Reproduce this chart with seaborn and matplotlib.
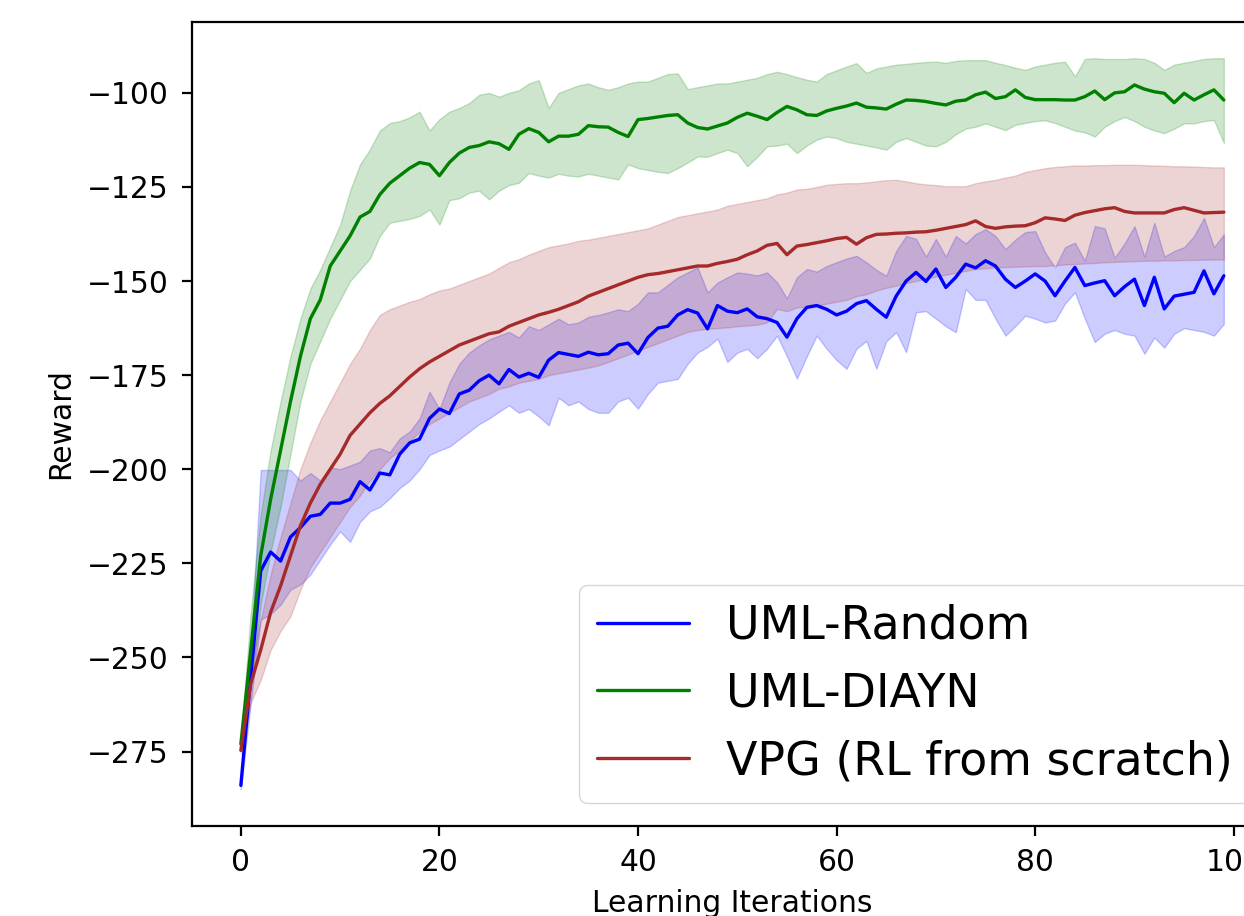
import numpy as np
import pandas as pd
import matplotlib
matplotlib.use("Agg")
import matplotlib.pyplot as plt
import seaborn as sns

iterations = list(range(100))

random_mean = [-284, -255, -227, -222, -224.4, -218, -215.5, -212.5, -212, -209,
               -209, -208, -203.3, -205.5, -201, -201.5, -196, -193, -192, -186.5,
               -184, -185.2, -180, -179, -176.5, -175, -177.3, -173.5, -175.5, -174.5,
               -175.6, -171, -169, -169.5, -170, -168.9, -169.6, -169.3, -167, -166.5,
               -169.3, -165, -162.5, -162, -159, -157.6, -158.5, -162.7, -156.5, -158,
               -158.4, -157.4, -159.5, -160, -161, -164.9, -160, -157, -156.5, -157.5,
               -159, -158, -156, -155.2, -157.5, -159.6, -154, -150, -147.7, -150.1,
               -146.8, -151.7, -149, -145.5, -146.5, -144.6, -146, -149.5, -151.7, -150,
               -148.1, -150, -153.9, -150, -146.4, -151.2, -150.5, -149.9, -153.9, -151.5,
               -149.5, -156.5, -149, -157.4, -154, -153.5, -153, -147.3, -153.4, -148.6]
random_lo = [-285, -262, -240, -238.5, -236, -232, -230.6, -228, -224, -220,
             -216.5, -219.3, -214, -211.2, -210, -207.7, -205, -203, -200, -196.2,
             -195, -194, -192, -190, -188, -186.5, -184.7, -183, -185, -184,
             -186, -188.3, -181, -183, -182, -184, -185, -185, -182, -181,
             -183.9, -180, -177, -176.5, -176, -172, -169, -167.5, -165.3, -171.5,
             -169, -168, -170.5, -168, -164.5, -170, -175.9, -170, -164.5, -168,
             -171, -173.3, -168, -165.9, -173.3, -166, -163.6, -168.9, -158.3, -158,
             -160, -162, -163.6, -152.1, -155, -155, -160, -164.5, -162, -159.2,
             -160, -161, -160.5, -156, -153, -160, -166.2, -164, -163, -164,
             -164.5, -169.3, -165, -167.7, -164, -162.5, -163, -163.5, -164.5, -161.4]
random_hi = [-283, -248, -200.2, -200.2, -200.2, -200.2, -203, -201, -203, -199.5,
             -200, -199, -198, -195, -194.4, -195.5, -191.8, -190, -186.5, -179.4,
             -184, -177, -172, -169, -167.1, -165.5, -164.5, -163.5, -165, -162,
             -163, -161.5, -160, -161.5, -161, -159.5, -159, -158.3, -157.5, -158,
             -156, -153, -153, -151, -149, -147.7, -146.4, -153, -150.4, -149,
             -147.7, -148, -148.5, -147.7, -150.3, -154.6, -149, -146.8, -147.5, -146,
             -145, -144, -143.3, -145, -147, -148.6, -142, -138, -138.8, -143.5,
             -138.8, -143.5, -138, -140, -137.5, -136.2, -138, -141.5, -139, -137,
             -136.7, -142.4, -146.4, -141, -139.8, -144.6, -135.4, -136, -143.8, -140,
             -135.4, -143.5, -134.5, -143.5, -142, -141, -138, -133.2, -141, -137.6]

diayn_mean = [-273, -248, -223, -208, -195, -182, -170, -160, -155, -146,
              -142, -138, -133, -131.5, -127, -124, -122, -120, -118.5, -119,
              -122, -118.5, -116, -114.5, -114, -113, -113.5, -115, -111, -109.5,
              -110.5, -113, -111.5, -111.5, -111, -108.7, -109, -109.1, -110.5, -111.6,
              -107.1, -106.8, -106.4, -106, -105.8, -108, -109.2, -109.6, -108.8, -108,
              -106.5, -105.4, -106.2, -107.1, -105.2, -103.6, -104.5, -105.8, -106, -104.8,
              -104.1, -103.5, -102.7, -103.8, -104, -104.3, -103, -101.9, -102, -102.3,
              -102.8, -103.2, -102.2, -101.9, -100.5, -99.8, -101.5, -101, -99.2, -101.2,
              -101.8, -101.8, -101.8, -101.9, -101.9, -101, -99.5, -101.8, -100, -99.7,
              -97.9, -99, -99.7, -100.1, -102.6, -100.1, -101.9, -100.5, -99.2, -101.9]
diayn_lo = [-274, -258, -236, -222, -210, -196, -182, -172, -166, -160,
            -155, -150, -147, -144, -138, -134.5, -134, -133.5, -132.7, -131,
            -135, -128.5, -128, -126.5, -126, -128.3, -126, -124.5, -123.9, -121.3,
            -122, -122.5, -121.5, -122, -122.2, -121.5, -122, -122.5, -123, -119,
            -120, -120.5, -121, -121.3, -120, -118.5, -116.9, -117, -116, -115.1,
            -116, -119.5, -117, -114.2, -114, -113.5, -116, -114, -112.4, -111.6,
            -112, -113, -113.5, -114, -114.5, -115.1, -113, -112, -113, -114,
            -114.2, -113, -111, -109.5, -109, -108.1, -109, -109.9, -108.5, -108,
            -107.5, -107.3, -108, -109, -110, -110.5, -111.6, -109, -107.5, -106.4,
            -107.5, -109, -110, -110.7, -109.5, -108.1, -108.1, -107.5, -107.2, -113.3]
diayn_hi = [-272, -238, -212, -195, -182, -170, -160, -152, -147, -141,
            -135, -126, -119, -115, -110, -108, -107.5, -106.5, -105, -110,
            -107, -105, -104, -102.7, -100.5, -100, -101, -100, -99.3, -97.5,
            -96.6, -104, -100, -99, -98, -97.5, -98.5, -99.2, -98.5, -97.5,
            -97, -97, -96, -95, -94.8, -99, -98.5, -98, -97.5, -97.5,
            -97, -96.5, -96, -95, -94.4, -95, -95.8, -96.5, -97, -95,
            -94, -93, -92.1, -94.7, -93.5, -93, -92.5, -92.3, -92, -91.8,
            -91.7, -92, -91.5, -91.3, -91.3, -91.3, -92, -92.6, -93.3, -93.9,
            -93, -92.5, -92, -91.7, -95.6, -91, -90.8, -91, -91, -91,
            -90.8, -91, -92, -93.9, -92.5, -92, -91.5, -91, -90.8, -90.8]

vpg_mean = [-274.7, -257, -248, -238, -231, -223, -215, -209, -204, -200,
            -196, -191, -188, -185, -182.5, -180.5, -178, -175.5, -173.3, -171.5,
            -170, -168.5, -167, -166, -165, -164, -163.5, -162, -161, -160,
            -159, -158.3, -157.5, -156.5, -155.5, -154, -153, -152, -151, -150,
            -149, -148.3, -148, -147.5, -147, -146.5, -146, -146, -145.3, -144.8,
            -144.2, -143, -142, -140.5, -140, -143, -140.7, -140.3, -139.8, -139.3,
            -138.7, -138.4, -140.2, -138.5, -137.6, -137.5, -137.3, -137.2, -137, -136.9,
            -136.5, -136, -135.5, -135, -134, -135.5, -136, -135.6, -135.4, -135.3,
            -134.5, -133.2, -133.5, -133.9, -132.5, -131.8, -131.3, -130.8, -130.5, -131.5,
            -131.9, -131.9, -131.9, -131.9, -131, -130.5, -131.2, -131.9, -131.8, -131.7]
vpg_lo = [-275.5, -262, -256, -248, -243, -239, -232, -226, -222, -218,
          -214, -210, -207, -203, -200, -197, -195, -192.5, -190, -188,
          -186.5, -185, -183.5, -182, -181, -180, -178.6, -178, -177, -176.5,
          -176, -175, -174.5, -174, -173.5, -173, -172.4, -171.5, -170.5, -169.5,
          -168.5, -167.5, -166.5, -165.5, -164.5, -163.5, -163, -162.7, -162.5, -162.3,
          -162, -161.8, -161.6, -161, -157.4, -158, -157, -156.8, -156.5, -156,
          -155.5, -155, -154, -153.5, -152.5, -151.8, -151.2, -150.5, -150, -149.3,
          -148.8, -148.3, -147.8, -147.3, -146.8, -146.6, -146.4, -146.3, -146.2, -146.1,
          -146, -146, -145.8, -145.6, -145.5, -145.3, -145.2, -145, -144.9, -144.8,
          -144.7, -144.6, -144.6, -144.5, -144.5, -144.4, -144.4, -144.3, -144.3, -144.3]
vpg_hi = [-274, -252, -240, -228, -218, -209, -200, -193, -187, -182,
          -177, -172, -168, -163, -159, -157.5, -156.5, -155.5, -154.8, -153.5,
          -152.5, -152, -151, -150, -149, -148, -146.5, -145, -144.2, -143,
          -142, -141, -140.5, -140, -139.3, -139, -138.5, -138, -137.5, -137,
          -136.5, -136, -135, -134, -133, -132.5, -132, -131.5, -131, -130,
          -129.5, -129, -128.5, -128, -127, -126.5, -125.7, -125.5, -125, -124.4,
          -124.2, -124, -124, -123.8, -123.5, -123.2, -123.1, -123.5, -124, -124.3,
          -124.5, -124.8, -124.8, -124.8, -124, -123.5, -123.1, -122.5, -122, -121,
          -120.5, -120, -119.7, -119.5, -119.3, -119.3, -119.2, -119.2, -119.1, -119.1,
          -119.1, -119.2, -119.3, -119.4, -119.5, -119.5, -119.6, -119.7, -119.8, -119.8]

labels = ["UML-Random", "UML-DIAYN", "VPG (RL from scratch)"]
colors = ["blue", "green", "brown"]

sns.set_theme(style="ticks")
plt.rcParams.update({
    "font.family": ["DejaVu Sans"],
    "font.size": 21.4,
    "axes.labelsize": 21.4,
    "xtick.labelsize": 21.4,
    "ytick.labelsize": 21.4,
    "legend.fontsize": 33,
    "axes.edgecolor": "black",
    "axes.labelcolor": "black",
    "text.color": "black",
    "xtick.color": "black",
    "ytick.color": "black",
    "axes.linewidth": 1.6,
    "xtick.major.size": 7.2,
    "ytick.major.size": 7.2,
    "xtick.major.width": 1.6,
    "ytick.major.width": 1.6,
    "xtick.major.pad": 8.9,
    "ytick.major.pad": 9.2,
    "axes.labelpad": 8.6,
    "lines.linewidth": 2.4,
    "patch.linewidth": 1.0,
    "axes.grid": False,
})

fig = plt.figure(figsize=(12.44, 9.16), dpi=100)
ax = fig.add_axes([0.1541, 0.0986, 0.8692, 0.8777])

series = [
    (random_mean, random_lo, random_hi),
    (diayn_mean, diayn_lo, diayn_hi),
    (vpg_mean, vpg_lo, vpg_hi),
]
for (mean, lo, hi), lab, col in zip(series, labels, colors):
    df = pd.DataFrame({"Learning Iterations": iterations, "Reward": mean})
    sns.lineplot(data=df, x="Learning Iterations", y="Reward", color=col,
                 label=lab, ax=ax, linewidth=2.4)
    ax.fill_between(iterations, lo, hi, color=col, alpha=0.2, linewidth=1.0)

ax.margins(x=0.05, y=0.05)
ax.set_xticks([0, 20, 40, 60, 80, 100])
ax.set_yticks([-275, -250, -225, -200, -175, -150, -125, -100])
ax.set_xlabel("Learning Iterations")
ax.set_ylabel("Reward")
for sp in ax.spines.values():
    sp.set_visible(True)
    sp.set_color("black")
ax.legend(loc="lower right", bbox_to_anchor=(1.0005, 0.0), fontsize=33)

fig.savefig("out.png", dpi=100)
